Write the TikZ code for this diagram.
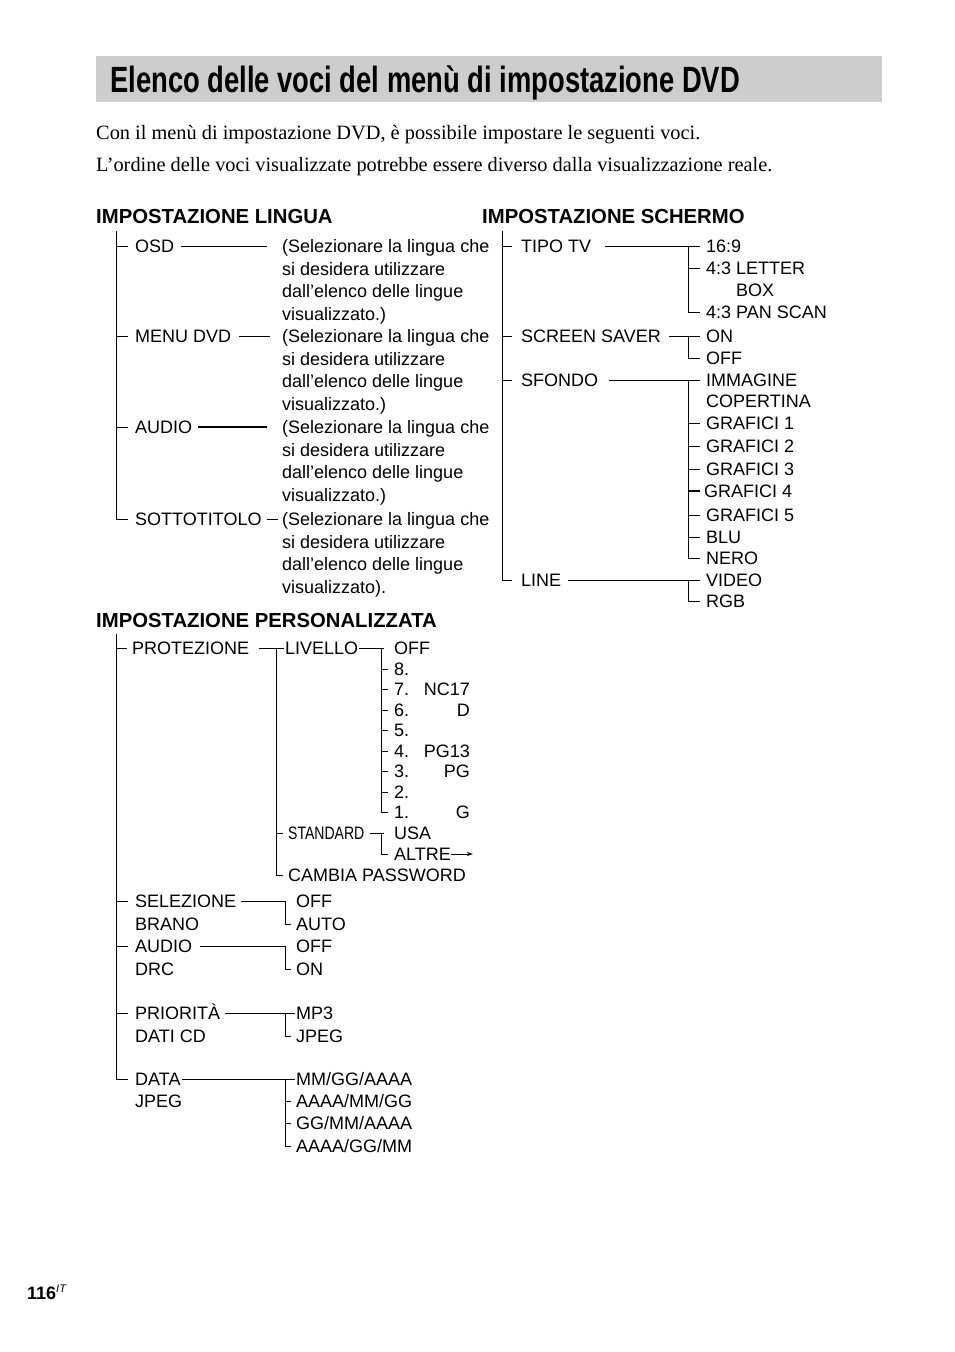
\documentclass[tikz,border=0pt]{standalone}
\usepackage{fontspec}
\setmainfont{Liberation Serif}
\setsansfont{Liberation Sans}
\newfontfamily\titolofont[FakeStretch=0.75]{Liberation Sans}
\newfontfamily\strettofont[FakeStretch=0.78]{Liberation Sans}
\usetikzlibrary{arrows.meta}
\definecolor{fascia}{RGB}{205,205,205}
\newcommand{\voce}{\sffamily\fontsize{18}{22.6}\selectfont}
\newcommand{\sellingua}{(Selezionare la lingua che\\si desidera utilizzare\\dall’elenco delle lingue\\visualizzato.)}

\begin{document}
\begin{tikzpicture}[x=1pt,y=-1pt,
  voce/.style={anchor=west,inner sep=0pt,font=\voce,text height=13pt,text depth=0pt},
  testo/.style={anchor=north west,inner sep=0pt,font=\voce,align=left},
  capo/.style={anchor=base west,inner sep=0pt,font=\sffamily\bfseries\fontsize{20.3}{24}\selectfont},
  intro/.style={anchor=base west,inner sep=0pt,font=\rmfamily\fontsize{20.35}{24}\selectfont},
  ramo/.style={line width=1pt},
  >={Stealth[length=6pt,width=4pt]}]
\useasboundingbox (0,0) rectangle (954,1352);

% titolo e introduzione
\fill[fascia] (96,56) rectangle (882,102);
\node[anchor=base west,inner sep=0pt,font=\titolofont\bfseries\fontsize{36.5}{40}\selectfont] (titolo) at (110,92)
  {Elenco delle voci del menù di impostazione DVD};
\node[intro] (intro1) at (96,139) {Con il menù di impostazione DVD, è possibile impostare le seguenti voci.};
\node[intro] (intro2) at (96,171) {L’ordine delle voci visualizzate potrebbe essere diverso dalla visualizzazione reale.};

\node[capo] (hlingua) at (96,223) {IMPOSTAZIONE LINGUA};
\node[capo] (hschermo) at (482,223) {IMPOSTAZIONE SCHERMO};
\node[capo] (hpers) at (96,627) {IMPOSTAZIONE PERSONALIZZATA};

% impostazione lingua
\coordinate (blin) at (116,231);
\node[voce] (osd) at (135,246) {OSD};
\node[voce] (menudvd) at (135,336) {MENU DVD};
\node[voce] (audiol) at (135,427) {AUDIO};
\node[voce] (sottot) at (135,519) {SOTTOTITOLO};
\node[testo] (selosd) at (282,239.3) {\sellingua};
\node[testo] (selmenu) at (282,329.3) {\sellingua};
\node[testo] (selaudio) at (282,420.3) {\sellingua};
\node[testo] (selsott) at (282,512.3)
  {(Selezionare la lingua che\\si desidera utilizzare\\dall’elenco delle lingue\\visualizzato).};

\draw[ramo] (blin) |- ([xshift=-7pt]sottot.west);
\foreach \n in {osd,menudvd,audiol} \draw[ramo,shorten >=7pt] (blin |- \n.west) -- (\n.west);
\draw[ramo,shorten <=7pt,shorten >=15pt] (osd.east) -- (osd.east -| selosd.west);
\draw[ramo,shorten <=8pt,shorten >=12pt] (menudvd.east) -- (menudvd.east -| selmenu.west);
\draw[ramo,line width=1.6pt,shorten <=6pt,shorten >=15pt] (audiol.east) -- (audiol.east -| selaudio.west);
\draw[ramo,shorten <=5pt,shorten >=4pt] (sottot.east) -- (sottot.east -| selsott.west);

% impostazione schermo
\coordinate (bsch) at (502,231);
\coordinate (xsch) at (688,0);
\node[voce] (tipotv) at (521,246) {TIPO TV};
\node[voce] (scrsav) at (521,336) {SCREEN SAVER};
\node[voce] (sfondo) at (521,380) {SFONDO};
\node[voce] (sline) at (521,580) {LINE};

\node[voce] (r169) at (706,246) {16:9};
\node[voce] (letter) at (706,268) {4:3 LETTER};
\node[voce] (box) at (736,290) {BOX};
\node[voce] (panscan) at (706,312) {4:3 PAN SCAN};
\node[voce] (sson) at (706,336) {ON};
\node[voce] (ssoff) at (706,358) {OFF};
\node[voce] (immagine) at (706,380) {IMMAGINE};
\node[voce] (copertina) at (706,401) {COPERTINA};
\node[voce] (graf1) at (706,423) {GRAFICI 1};
\node[voce] (graf2) at (706,446) {GRAFICI 2};
\node[voce] (graf3) at (706,469) {GRAFICI 3};
\node[voce] (graf4) at (704,491) {GRAFICI 4};
\node[voce] (graf5) at (706,515) {GRAFICI 5};
\node[voce] (blu) at (706,537) {BLU};
\node[voce] (nero) at (706,558) {NERO};
\node[voce] (video) at (706,580) {VIDEO};
\node[voce] (rgb) at (706,601) {RGB};

\draw[ramo] (bsch) |- ([xshift=-9pt]sline.west);
\foreach \n in {tipotv,scrsav,sfondo} \draw[ramo,shorten >=9pt] (bsch |- \n.west) -- (\n.west);
\foreach \capo/\primo/\ultimo/\da in {tipotv/r169/panscan/14pt,scrsav/sson/ssoff/8pt,
    sfondo/immagine/nero/11pt,sline/video/rgb/7pt}{
  \draw[ramo,shorten <=\da,shorten >=6pt] (\capo.east) -- (\capo.east -| \primo.west);
  \draw[ramo] (xsch |- \primo.west) |- ([xshift=-6pt]\ultimo.west);
}
\foreach \n in {letter,graf1,graf2,graf3,graf5,blu} \draw[ramo,shorten >=6pt] (xsch |- \n.west) -- (\n.west);
\draw[ramo,line width=1.6pt,shorten >=4pt] (xsch |- graf4.west) -- (graf4.west);

% impostazione personalizzata
\coordinate (bper) at (116,634);
\node[voce] (protez) at (132,648) {PROTEZIONE};
\node[voce] (selez) at (135,901) {SELEZIONE};
\node[voce] (brano) at (135,924) {BRANO};
\node[voce] (audiop) at (135,946) {AUDIO};
\node[voce] (drc) at (135,969) {DRC};
\node[voce] (priorita) at (135,1013) {PRIORITÀ};
\node[voce] (daticd) at (135,1036) {DATI CD};
\node[voce] (dataj) at (135,1079) {DATA};
\node[voce] (jpegd) at (135,1101) {JPEG};

\draw[ramo] (bper) |- ([xshift=-7pt]dataj.west);
\draw[ramo,shorten >=5pt] (bper |- protez.west) -- (protez.west);
\foreach \n in {selez,audiop,priorita} \draw[ramo,shorten >=7pt] (bper |- \n.west) -- (\n.west);

% protezione
\coordinate (xprot) at (276,0);
\coordinate (xliv) at (381,0);
\node[voce] (livello) at (285,648) {LIVELLO};
\node[voce,font=\strettofont\fontsize{18}{20}\selectfont] (standard) at (288,833) {STANDARD};
\node[voce] (cambia) at (288,875) {CAMBIA PASSWORD};
\draw[ramo,shorten <=10pt,shorten >=1pt] (protez.east) -- (livello.west);
\draw[ramo] (xprot |- livello.west) |- ([xshift=-5pt]cambia.west);
\draw[ramo,shorten >=5pt] (xprot |- standard.west) -- (standard.west);

\foreach \n/\t/\y in {loff/OFF/648,l8/8./669,l7/7./689,l6/6./710,l5/5./730,
    l4/4./751,l3/3./771,l2/2./792,l1/1./812}
  \node[voce] (\n) at (394,\y) {\t};
\node[voce,anchor=east] (nc17) at (470,689) {NC17};
\node[voce,anchor=east] (rd) at (470,710) {D};
\node[voce,anchor=east] (pg13) at (470,751) {PG13};
\node[voce,anchor=east] (pg) at (470,771) {PG};
\node[voce,anchor=east] (rg) at (470,812) {G};
\draw[ramo,shorten <=1pt,shorten >=10pt] (livello.east) -- (livello.east -| loff.west);
\draw[ramo] (xliv |- loff.west) |- ([xshift=-6pt]l1.west);
\foreach \n in {l8,l7,l6,l5,l4,l3,l2} \draw[ramo,shorten >=6pt] (xliv |- \n.west) -- (\n.west);

\node[voce] (usa) at (394,833) {USA};
\node[voce] (altre) at (394,854) {ALTRE};
\coordinate (altrefreccia) at (473,854);
\draw[ramo,shorten <=5pt,shorten >=10pt] (standard.east) -- (standard.east -| usa.west);
\draw[ramo] (xliv |- usa.west) |- ([xshift=-6pt]altre.west);
\draw[ramo,->] (altre.east) -- (altrefreccia);

% opzioni
\coordinate (xopz) at (285,0);
\node[voce] (soff) at (296,901) {OFF};
\node[voce] (sauto) at (296,924) {AUTO};
\node[voce] (aoff) at (296,946) {OFF};
\node[voce] (aon) at (296,969) {ON};
\node[voce] (mp3) at (296,1013) {MP3};
\node[voce] (pjpeg) at (296,1036) {JPEG};
\node[voce] (d1) at (296,1079) {MM/GG/AAAA};
\node[voce] (d2) at (296,1101) {AAAA/MM/GG};
\node[voce] (d3) at (296,1123) {GG/MM/AAAA};
\node[voce] (d4) at (296,1146) {AAAA/GG/MM};
\foreach \capo/\primo/\ultimo/\da/\a in {selez/soff/sauto/5pt/11pt,audiop/aoff/aon/8pt/11pt,
    priorita/mp3/pjpeg/5pt/1pt,dataj/d1/d4/1pt/1pt}{
  \draw[ramo,shorten <=\da,shorten >=\a] (\capo.east) -- (\capo.east -| \primo.west);
  \draw[ramo] (xopz |- \primo.west) |- ([xshift=-5pt]\ultimo.west);
}
\foreach \n in {d2,d3} \draw[ramo,shorten >=5pt] (xopz |- \n.west) -- (\n.west);

% numero di pagina
\node[anchor=base west,inner sep=0pt,font=\sffamily\bfseries\fontsize{18}{20}\selectfont] (pagina) at (27,1299)
  {116\raisebox{7pt}{\fontsize{11}{12}\selectfont\mdseries\itshape IT}};
\end{tikzpicture}
\end{document}
